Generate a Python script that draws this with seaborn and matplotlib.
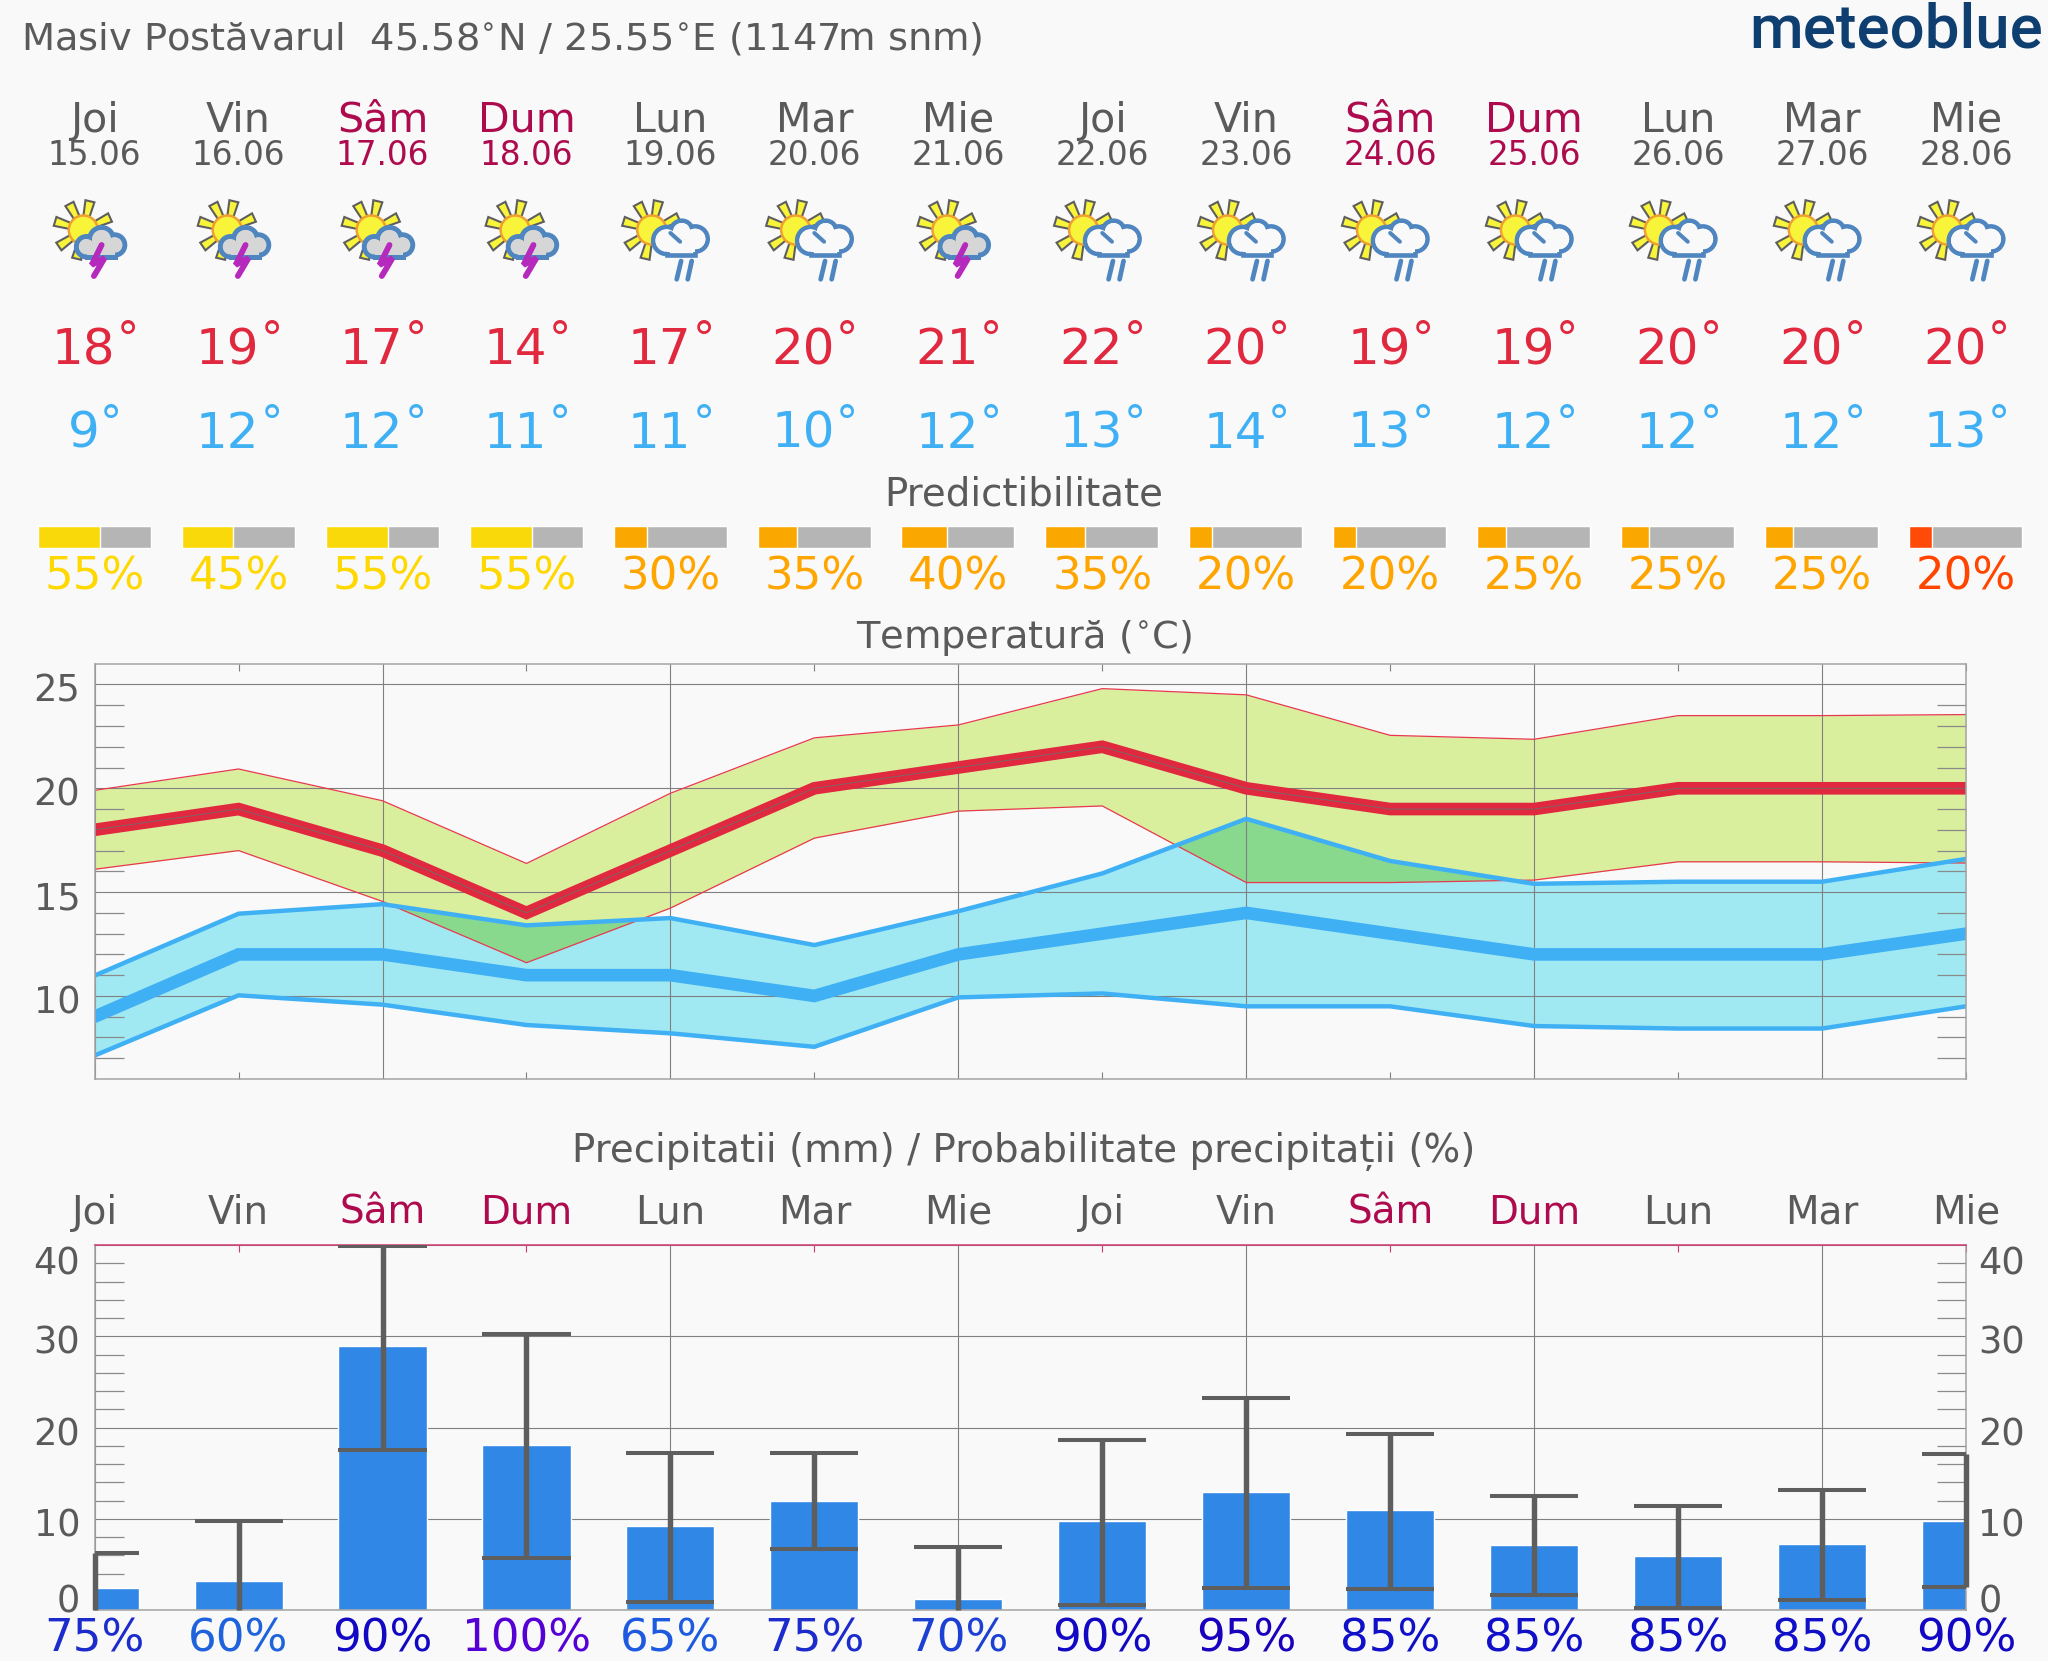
import numpy as np
import matplotlib
matplotlib.use("Agg")
import matplotlib.pyplot as plt
import matplotlib.transforms as mtrans
from matplotlib.patches import Circle, Polygon, Rectangle
from matplotlib.ticker import FixedLocator
import seaborn as sns

day_names = ["Joi", "Vin", "Sâm", "Dum", "Lun", "Mar", "Mie", "Joi", "Vin", "Sâm", "Dum", "Lun", "Mar", "Mie"]
dates = ["15.06", "16.06", "17.06", "18.06", "19.06", "20.06", "21.06",
         "22.06", "23.06", "24.06", "25.06", "26.06", "27.06", "28.06"]
weekend = [2, 3, 9, 10]
storm_days = [0, 1, 2, 3, 6]

temp_high = [18, 19, 17, 14, 17, 20, 21, 22, 20, 19, 19, 20, 20, 20]
temp_low = [9, 12, 12, 11, 11, 10, 12, 13, 14, 13, 12, 12, 12, 13]
high_upper = [19.9, 20.93, 19.4, 16.38, 19.76, 22.43, 23.05, 24.8, 24.5, 22.55, 22.36, 23.5, 23.5, 23.55]
high_lower = [16.1, 17.0, 14.55, 11.6, 14.23, 17.6, 18.9, 19.15, 15.46, 15.46, 15.58, 16.46, 16.46, 16.4]
low_upper = [10.98, 13.96, 14.42, 13.4, 13.75, 12.45, 14.08, 15.9, 18.53, 16.5, 15.4, 15.5, 15.5, 16.6]
low_lower = [7.13, 10.03, 9.58, 8.6, 8.2, 7.55, 9.93, 10.12, 9.5, 9.5, 8.55, 8.43, 8.43, 9.5]

predictability = [55, 45, 55, 55, 30, 35, 40, 35, 20, 20, 25, 25, 25, 20]
pred_bar_colors = ["#F9D90A"] * 4 + ["#FAA800"] * 9 + ["#FF4A08"]
pred_text_colors = ["#FFD800"] * 4 + ["#FFA500"] * 9 + ["#FF4500"]

precip = [2.44, 3.15, 28.9, 18.05, 9.2, 11.95, 1.2, 9.7, 12.95, 11.0, 7.15, 5.95, 7.25, 9.8]
precip_upper = [6.22, 9.74, 39.85, 30.2, 17.2, 17.2, 6.95, 18.6, 23.2, 19.3, 12.48, 11.37, 13.2, 17.05]
precip_lower = [np.nan, np.nan, 17.5, 5.7, 0.85, 6.7, np.nan, 0.6, 2.4, 2.3, 1.6, 0.26, 1.15, 2.5]
precip_prob = [75, 60, 90, 100, 65, 75, 70, 90, 95, 85, 85, 85, 85, 90]
prob_colors = ["#1C2CCC", "#1E62DC", "#1208C4", "#5500D4", "#1E5AE0", "#1C2CCC", "#1C40D4",
               "#1208C4", "#1800BE", "#1010C8", "#1010C8", "#1010C8", "#1010C8", "#1208C4"]

W, H = 2048, 1661
BG = "#F9F9F9"
GREY = "#5A5A5A"
WEEKEND = "#AE0A4E"
LEFT, RIGHT = 94.6, 1966.0
DAY_PX = (RIGHT - LEFT) / 13
days = np.arange(14)

sns.set_theme(style="white", rc={"figure.facecolor": BG, "axes.facecolor": BG, "savefig.facecolor": BG})
plt.rcParams["font.family"] = ["DejaVu Sans"]
plt.rcParams["mathtext.fontset"] = "dejavusans"


def px_axes(fig, top, bottom, left=LEFT, right=RIGHT):
    return fig.add_axes([left / W, 1 - bottom / H, (right - left) / W, (bottom - top) / H])


def shift_label(label, dy_px, dx_px=0):
    off = mtrans.ScaledTranslation(dx_px / 100, -dy_px / 100, fig.dpi_scale_trans)
    label.set_transform(label.get_transform() + off)


def style_axis(ax):
    ax.set_xlim(0, 13)
    ax.xaxis.set_major_locator(FixedLocator(days[::2]))
    ax.xaxis.set_minor_locator(FixedLocator(days[1::2]))
    ax.tick_params(axis="x", which="major", length=0, labelbottom=False)
    ax.grid(True, which="major", color="#808080", linewidth=0.8)
    ax.set_xlabel("")
    ax.set_ylabel("")


def draw_icon(ov, cx, storm):
    sx = cx + (-11.3 if storm else -18.7)
    sy = 230.0
    for a in np.radians([25, 77, 118, 163, 214, 257]):
        u = np.array([np.cos(a), -np.sin(a)])
        n = np.array([-u[1], u[0]])
        c = np.array([sx, sy])
        pts = [c + 13 * u + 3.0 * n, c + 29.5 * u + 4.6 * n, c + 29.5 * u - 4.6 * n, c + 13 * u - 3.0 * n]
        ov.add_patch(Polygon(pts, closed=True, fc="#F8F43A", ec="#5E5E5E", lw=1.5, zorder=5))
    ov.add_patch(Circle((sx, sy), 14.5, fc="#F8F43A", ec="#F0A030", lw=1.8, zorder=6))
    if storm:
        lobes = [(-8, 246.7, 10.2), (7, 239.5, 12), (20, 245, 10.2)]
        box = (-8, 246, 28, 11)
        fill = "#D6D6D6"
        lw = 3.6
    else:
        lobes = [(-3.7, 240.5, 13.5), (11.3, 231.7, 11), (24.7, 239, 12.6)]
        box = (-3.7, 243, 28.4, 11.5)
        fill = BG
        lw = 3.3
    half = lw / 1.44
    for dx, y, r in lobes:
        ov.add_patch(Circle((cx + dx, y), r, fc=fill, ec="#4F86C0", lw=lw, zorder=7))
    ov.add_patch(Rectangle((cx + box[0], box[1]), box[2], box[3], fc=fill, ec="#4F86C0", lw=lw, zorder=7))
    for dx, y, r in lobes:
        ov.add_patch(Circle((cx + dx, y), r - half, fc=fill, ec="none", zorder=8))
    ov.add_patch(Rectangle((cx + box[0], box[1] - 3), box[2], box[3] + 3 - half, fc=fill, ec="none", zorder=8))
    if storm:
        ov.plot([cx + 7, cx - 3, cx + 10, cx - 0.7], [245, 265, 258, 276], color="#B52ABD", lw=4.2,
                solid_joinstyle="bevel", solid_capstyle="round", zorder=9)
    else:
        ov.plot([cx, cx + 9.7], [233, 241.7], color="#4F86C0", lw=2.9, zorder=9)
        ov.plot([cx + 10.7, cx + 6.3], [261, 279.3], color="#4F86C0", lw=3.4, zorder=9)
        ov.plot([cx + 21.3, cx + 17.3], [261, 279.3], color="#4F86C0", lw=3.4, zorder=9)


fig = plt.figure(figsize=(W / 100, H / 100), dpi=100)

# temperature panel
ax_t = px_axes(fig, 663.7, 1079)
ax_t.fill_between(days, high_lower, high_upper, color="#DAEF9E", lw=0)
ax_t.fill_between(days, low_lower, low_upper, color="#A0E9F2", lw=0)
ax_t.fill_between(days, high_lower, low_upper, where=np.array(low_upper) > np.array(high_lower),
                  interpolate=True, color="#88D88E", lw=0)
for band in (high_upper, high_lower):
    sns.lineplot(x=days, y=band, ax=ax_t, color="#E8384F", linewidth=0.9, errorbar=None)
for band in (low_upper, low_lower):
    sns.lineplot(x=days, y=band, ax=ax_t, color="#40B0F5", linewidth=3.2, errorbar=None)
sns.lineplot(x=days, y=temp_low, ax=ax_t, color="#40B0F5", linewidth=9.1, errorbar=None, solid_joinstyle="miter")
sns.lineplot(x=days, y=temp_high, ax=ax_t, color="#E0283F", linewidth=9.1, errorbar=None, solid_joinstyle="miter")
sns.lineplot(x=days, y=temp_high, ax=ax_t, color="#6E6E6E", linewidth=0.6, errorbar=None)
style_axis(ax_t)
ax_t.set_ylim(6, 26)
ax_t.set_axisbelow("line")
ax_t.set_yticks([10, 15, 20, 25])
ax_t.yaxis.set_minor_locator(FixedLocator([v for v in range(7, 26) if v % 5]))
ax_t.tick_params(axis="y", which="major", length=0, labelsize=26.5, labelcolor=GREY, pad=10.2)
ax_t.tick_params(axis="y", which="minor", direction="in", left=True, right=True, length=21, width=0.9, color="#8A8A8A")
ax_t.tick_params(axis="x", which="minor", direction="in", bottom=True, top=True, length=5, width=0.8, color="#808080")
for tick in ax_t.yaxis.get_major_ticks():
    shift_label(tick.label1, 3)
for s in ax_t.spines.values():
    s.set_color("#A4A4A4")
    s.set_linewidth(1.1)

# precipitation panel
ax_p = px_axes(fig, 1245, 1610)
sns.barplot(x=days, y=precip, ax=ax_p, native_scale=True, width=0.612, color="#3087E6", saturation=1)
stem_low = np.nan_to_num(precip_lower)
ax_p.vlines(days, stem_low, precip_upper, color="#5E5E5E", lw=3.9, clip_on=False, zorder=4)
ax_p.hlines(precip_upper, days - 0.306, days + 0.306, color="#5E5E5E", lw=2.9, zorder=4)
ax_p.hlines(precip_lower, days - 0.306, days + 0.306, color="#5E5E5E", lw=2.9, zorder=4)
style_axis(ax_p)
ax_p.set_ylim(0, 40)
ax_p.set_axisbelow(True)
ax_p.set_yticks([0, 10, 20, 30, 40])
ax_p.yaxis.set_minor_locator(FixedLocator([v for v in range(2, 40, 2) if v % 10]))
ax_p.tick_params(axis="y", which="major", length=0, labelsize=26.5, labelcolor=GREY, pad=10.2,
                 left=False, right=False, labelleft=True, labelright=True)
ax_p.tick_params(axis="y", which="minor", direction="in", left=True, right=True, length=21, width=0.9, color="#8A8A8A")
ax_p.tick_params(axis="x", which="minor", direction="in", bottom=False, top=True, length=5, width=0.8, color="#D33A72")
label_shift = {0: -12, 10: 3, 20: 3, 30: 3, 40: 15}
for value, tick in zip([0, 10, 20, 30, 40], ax_p.yaxis.get_major_ticks()):
    shift_label(tick.label1, label_shift[value])
    shift_label(tick.label2, label_shift[value], dx_px=-2)
for s in ax_p.spines.values():
    s.set_color("#A4A4A4")
    s.set_linewidth(1.1)
ax_p.spines["top"].set_color("#D33A72")

# predictability bars
ax_b = px_axes(fig, 526, 548)
ax_b.barh(0, [0.785] * 14, left=days - 0.395, height=1, color="#B5B5B5")
ax_b.barh(0, np.array(predictability) / 100 * 0.785, left=days - 0.395, height=1, color=pred_bar_colors)
ax_b.set_xlim(0, 13)
ax_b.set_ylim(-0.5, 0.5)
ax_b.axis("off")
for patch in ax_b.patches:
    patch.set_clip_on(False)

# text and pictograms, in pixels of the figure
ov = fig.add_axes([0, 0, 1, 1], facecolor="none")
ov.set_xlim(0, W)
ov.set_ylim(H, 0)
ov.axis("off")

ov.text(21, 49.4, "Masiv Postăvarul  45.58$^{\\circ}$N / 25.55$^{\\circ}$E (1147m snm)",
        fontsize=27.6, color=GREY, va="baseline")
ov.text(2043, 48, "meteoblue", fontsize=44.5, color="#0F3F70", family="Roboto", weight="medium",
        ha="right", va="baseline")
ov.text(1024, 505, "Predictibilitate", fontsize=27.9, color=GREY, ha="center", va="baseline")
ov.text(1024, 648, "Temperatură ($^{\\circ}$C)", fontsize=27.6, color=GREY, ha="center", va="baseline")
ov.text(1024, 1162, "Precipitatii (mm) / Probabilitate precipitații (%)", fontsize=27.9, color=GREY,
        ha="center", va="baseline")

for i in days:
    cx = LEFT + i * DAY_PX
    col = WEEKEND if i in weekend else GREY
    ov.text(cx, 131.6, day_names[i], fontsize=29.6, color=col, ha="center", va="baseline")
    ov.text(cx, 165, dates[i], fontsize=23.6, color=col, ha="center", va="baseline")
    draw_icon(ov, cx, i in storm_days)
    ov.text(cx - 11, 364.5, str(temp_high[i]), fontsize=36, color="#E0283F", ha="center", va="baseline")
    ov.text(cx + 33, 353.5, "°", fontsize=32, color="#E0283F", ha="center", va="baseline")
    low = str(temp_low[i])
    ov.text(cx - 11, 447.5, low, fontsize=36, color="#40B0F5", ha="center", va="baseline")
    ov.text(cx + (33 if len(low) == 2 else 16.5), 436.5, "°", fontsize=32, color="#40B0F5", ha="center", va="baseline")
    ov.text(cx, 589, f"{predictability[i]}%", fontsize=32.5, color=pred_text_colors[i], ha="center", va="baseline")
    ov.text(cx, 1224, day_names[i], fontsize=28, color=col, ha="center", va="baseline")
    ov.text(cx, 1651.5, f"{precip_prob[i]}%", fontsize=32.5, color=prob_colors[i], ha="center", va="baseline")

fig.savefig("out.png", dpi=100)
plt.close(fig)
